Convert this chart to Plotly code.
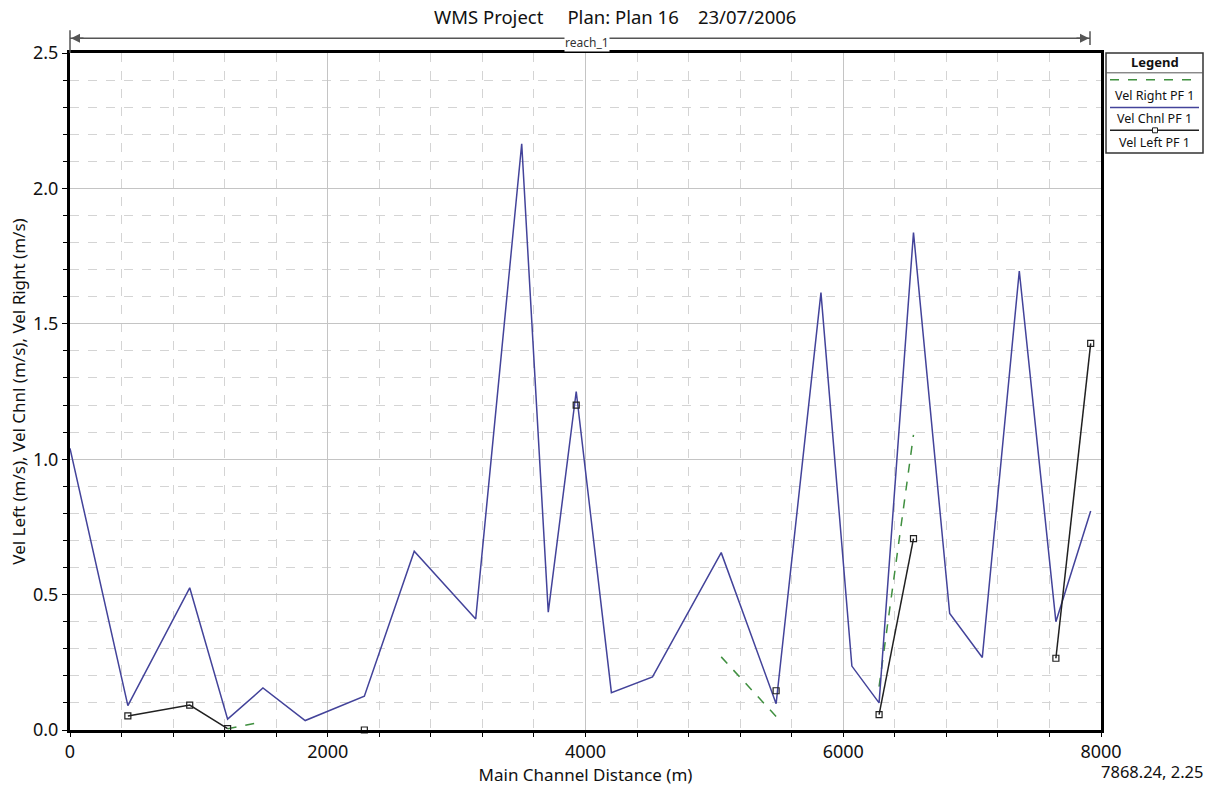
import plotly.graph_objects as go

# ---- data ----
stations = [0, 449, 929, 1223, 1497, 1825, 2284, 2671, 3148, 3505, 3711, 3928,
            4201, 4520, 5053, 5479, 5827, 6067, 6278, 6545, 6826, 7079, 7366,
            7650, 7920]
vel_chnl = [1.04, 0.09, 0.525, 0.04, 0.155, 0.035, 0.125, 0.66, 0.41, 2.165,
            0.435, 1.25, 0.138, 0.196, 0.655, 0.097, 1.615, 0.236, 0.10, 1.837,
            0.43, 0.268, 1.695, 0.40, 0.809]
vel_left = [None, 0.052, 0.092, 0.005, None, None, 0.0, None, None, None,
            None, 1.20, None, None, None, 0.145, None, None, 0.057, 0.707,
            None, None, None, 0.265, 1.428]
vel_right = [None, None, None, 0.005, 0.03, None, None, None, None, None,
             None, None, None, None, 0.27, 0.05, None, None, 0.16, 1.09,
             None, None, None, None, None]

x_ticks = [0, 2000, 4000, 6000, 8000]
y_ticks = [0.0, 0.5, 1.0, 1.5, 2.0, 2.5]
y_tick_text = ["0.0", "0.5", "1.0", "1.5", "2.0", "2.5"]

W, H = 1213, 788
L, R, T, B = 70, 112, 53, 52
PW, PH = W - L - R, H - T - B
FONT = "Noto Sans"

BLUE = "#43439a"
GREEN = "#3f8f3f"
BLACK = "#202020"


def px(xp):
    return (xp - L) / PW


def py(yp):
    return (H - B - yp) / PH


def label(xp, yp, text, size, xanchor="center", color="#111111", **kw):
    return dict(xref="paper", yref="paper", x=px(xp), y=py(yp), text=text,
                showarrow=False, xanchor=xanchor, yanchor="middle",
                font=dict(family=FONT, size=size, color=color), **kw)


fig = go.Figure()
fig.add_trace(go.Scatter(x=stations, y=vel_right, mode="lines", name="Vel Right PF 1",
                         line=dict(color=GREEN, width=1.5, dash="dash"),
                         connectgaps=False, showlegend=False))
fig.add_trace(go.Scatter(x=stations, y=vel_chnl, mode="lines", name="Vel Chnl PF 1",
                         line=dict(color=BLUE, width=1.5),
                         showlegend=False))
fig.add_trace(go.Scatter(x=stations, y=vel_left, mode="lines+markers", name="Vel Left PF 1",
                         line=dict(color=BLACK, width=1.5),
                         marker=dict(symbol="square-open", size=6, color=BLACK,
                                     line=dict(width=1.2)),
                         connectgaps=False, cliponaxis=False, showlegend=False))

shapes = []
annotations = []

# reach_1 arrow line
y_reach = py(38)
shapes.append(dict(type="line", xref="paper", yref="paper", x0=px(70), x1=px(1090),
                   y0=y_reach, y1=y_reach, line=dict(color="#555555", width=1.5)))
shapes.append(dict(type="line", xref="paper", yref="paper", x0=px(70), x1=px(70),
                   y0=py(30), y1=1.0, line=dict(color="#555555", width=1.5)))
shapes.append(dict(type="line", xref="paper", yref="paper", x0=px(1090), x1=px(1090),
                   y0=py(31), y1=py(45), line=dict(color="#555555", width=1.5)))
annotations.append(dict(xref="paper", yref="paper", x=px(71), y=y_reach, ax=14, ay=0,
                        text="", showarrow=True, arrowhead=2, arrowsize=1.2,
                        arrowwidth=1.5, arrowcolor="#555555"))
annotations.append(dict(xref="paper", yref="paper", x=px(1089), y=y_reach, ax=-14, ay=0,
                        text="", showarrow=True, arrowhead=2, arrowsize=1.2,
                        arrowwidth=1.5, arrowcolor="#555555"))
annotations.append(label(587, 42, "reach_1", 12, color="#333333",
                         bgcolor="white", borderpad=0))

# title
annotations.append(label(615, 16,
                         "WMS Project&nbsp;&nbsp;&nbsp;&nbsp; Plan: Plan 16&nbsp;&nbsp;&nbsp; 23/07/2006",
                         18.5))

# coordinates readout
annotations.append(label(1206, 778, "7868.24, 2.25", 16.5, xanchor="right"))

# manual legend box
lx0, lx1 = 1106, 1203
lxc = (lx0 + lx1) / 2
shapes.append(dict(type="rect", xref="paper", yref="paper", x0=px(lx0), x1=px(lx1),
                   y0=py(154), y1=py(53), line=dict(color="#333333", width=1.5),
                   fillcolor="white"))
shapes.append(dict(type="line", xref="paper", yref="paper", x0=px(lx0), x1=px(lx1),
                   y0=py(73), y1=py(73), line=dict(color="#555555", width=1)))
annotations.append(label(lxc, 62, "<b>Legend</b>", 13))
legend_items = [("Vel Right PF 1", GREEN, "dash", 80, 96),
                ("Vel Chnl PF 1", BLUE, "solid", 108, 119),
                ("Vel Left PF 1", BLACK, "solid", 131, 143)]
for name, col, dash, yl, yt in legend_items:
    shapes.append(dict(type="line", xref="paper", yref="paper", x0=px(1110), x1=px(1199),
                       y0=py(yl), y1=py(yl), line=dict(color=col, width=1.5, dash=dash)))
    annotations.append(label(lxc, yt, name, 12.5))
shapes.append(dict(type="rect", xref="paper", yref="paper", x0=px(1152.5), x1=px(1157.5),
                   y0=py(133.5), y1=py(128.5), line=dict(color=BLACK, width=1),
                   fillcolor="white"))

fig.update_layout(
    width=W, height=H,
    margin=dict(l=L, r=R, t=T, b=B, pad=0),
    paper_bgcolor="white", plot_bgcolor="white",
    font=dict(family=FONT, size=17, color="#111111"),
    shapes=shapes, annotations=annotations,
    showlegend=False,
)
fig.update_xaxes(
    range=[0, 8000], tickvals=x_ticks, ticktext=[str(v) for v in x_ticks],
    showline=True, linecolor="black", linewidth=3, mirror=True,
    showgrid=True, gridcolor="#c4c4c4", gridwidth=1,
    ticks="outside", ticklen=3, tickcolor="black",
    tickfont=dict(family=FONT, size=18),
    minor=dict(dtick=400, tick0=0, showgrid=True, gridcolor="#d4d4d4",
               griddash="dash", ticks="outside", ticklen=4, tickcolor="black"),
    zeroline=False,
    title=dict(text="Main Channel Distance (m)", font=dict(family=FONT, size=17), standoff=2),
)
fig.update_yaxes(
    range=[0, 2.5], tickvals=y_ticks, ticktext=y_tick_text,
    showline=True, linecolor="black", linewidth=3, mirror=True,
    showgrid=True, gridcolor="#c4c4c4", gridwidth=1,
    ticks="outside", ticklen=5, tickcolor="black",
    tickfont=dict(family=FONT, size=18),
    minor=dict(dtick=0.1, tick0=0, showgrid=True, gridcolor="#d4d4d4",
               griddash="dash", ticks="outside", ticklen=4, tickcolor="black"),
    zeroline=False,
    title=dict(text="Vel Left (m/s), Vel Chnl (m/s), Vel Right (m/s)",
               font=dict(family=FONT, size=17), standoff=4),
)

fig.write_html("out.html")
